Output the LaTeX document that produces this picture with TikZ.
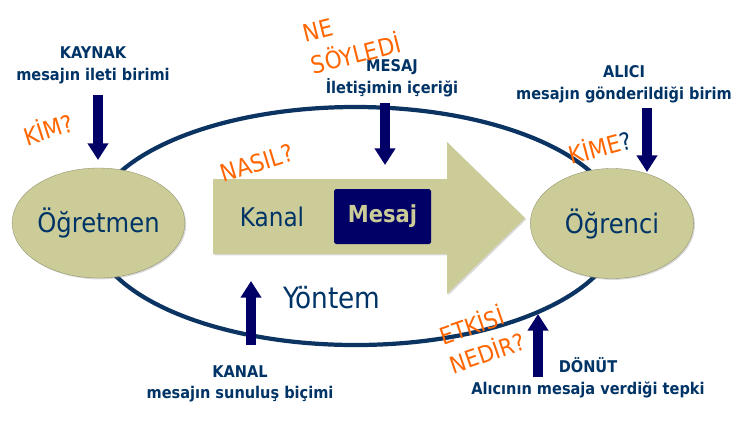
\documentclass[tikz,border=0pt]{standalone}
\usepackage{fontspec}
\setmainfont{DejaVu Sans Condensed}
\usetikzlibrary{shapes.geometric,arrows.meta,positioning,shadows}

\definecolor{olive}{RGB}{204,204,153}
\definecolor{navy}{RGB}{0,0,102}
\definecolor{ink}{RGB}{0,51,102}
\definecolor{ringblue}{RGB}{12,52,98}
\definecolor{orng}{RGB}{255,102,0}

\begin{document}
\begin{tikzpicture}[x=0.03cm,y=-0.03cm,
  soft shadow/.style={drop shadow={shadow xshift=0.04cm,shadow yshift=-0.04cm,opacity=0.3}},
  party/.style={ellipse,fill=olive,draw=olive!70!black,line width=0.3pt,
    minimum width=4.9cm,minimum height=3.3cm,inner sep=0pt,text=ink,
    font=\fontsize{23}{26}\selectfont,soft shadow},
  role/.style={text=ink,align=center,font=\bfseries\fontsize{13.8}{18.4}\selectfont},
  ask/.style={text=orng,align=left,font=\fontsize{20.5}{28}\selectfont},
  pointer/.style={draw=navy,line width=0.28cm,-{Triangle[width=0.6cm,length=0.5cm]}}]

  \useasboundingbox (0,0) rectangle (739,435);

  % the ring
  \node[ellipse,draw=ringblue,line width=3.6pt,minimum width=15.84cm,
    minimum height=7.14cm] (ring) at (355.5,226) {};

  % the big arrow
  \fill[olive,soft shadow] (213,179) -- (447,179) -- (447,142) -- (525,218)
    -- (447,294) -- (447,254) -- (213,254) -- cycle;
  \node[text=ink,font=\fontsize{22}{24}\selectfont] (kanal) at (272,217) {Kanal};
  \node[fill=navy,rounded corners=1.5pt,minimum width=2.91cm,minimum height=1.65cm,
    text=olive,font=\bfseries\fontsize{20}{22}\selectfont] (mesaj) at (382.5,216.5) {Mesaj};

  % sender and receiver
  \node[party] (ogretmen) at (98.5,223) {Öğretmen};
  \node[party] (ogrenci) at (612,223.5) {Öğrenci};

  % roles
  \node[role] (kaynak) at (93,65.5) {KAYNAK\\mesajın ileti birimi};
  \node[role] (icerik) at (392,78) {MESAJ\\İletişimin içeriği};
  \node[role] (alici) at (624,84) {ALICI\\mesajın gönderildiği birim};
  \node[role] (sunum) at (240,384) {KANAL\\mesajın sunuluş biçimi};
  \node[role] (donut) at (588,377.5) {DÖNÜT\\Alıcının mesaja verdiği tepki};
  \node[text=ink,font=\fontsize{25}{28}\selectfont] (yontem) at (332,298) {Yöntem};

  % pointers
  \coordinate (kaynak tail) at (98,95);
  \coordinate (kaynak head) at (98,160);
  \coordinate (icerik tail) at (385,103);
  \coordinate (icerik head) at (385,165);
  \coordinate (alici tail) at (647,108);
  \coordinate (alici head) at (647,172);
  \coordinate (sunum tail) at (251,345);
  \coordinate (sunum head) at (251,281);
  \coordinate (donut tail) at (538,377);
  \coordinate (donut head) at (538,314);
  \foreach \p in {kaynak,icerik,alici,sunum,donut}
    \draw[pointer] (\p\space tail) -- (\p\space head);

  % questions
  \node[ask,rotate=18] (kim) at (48,128) {KİM?};
  \node[ask,rotate=14] (nesoyledi) at (352,39) {NE\\SÖYLEDİ};
  \node[ask,rotate=17] (nasil) at (257,163) {NASIL?};
  \node[ask,rotate=15] (kime) at (600,146) {KİME\textcolor{ink}{?}};
  \node[ask,rotate=19,font=\fontsize{20}{26}\selectfont] (etkisi) at (482,337) {ETKİSİ\\NEDİR?};
\end{tikzpicture}
\end{document}
